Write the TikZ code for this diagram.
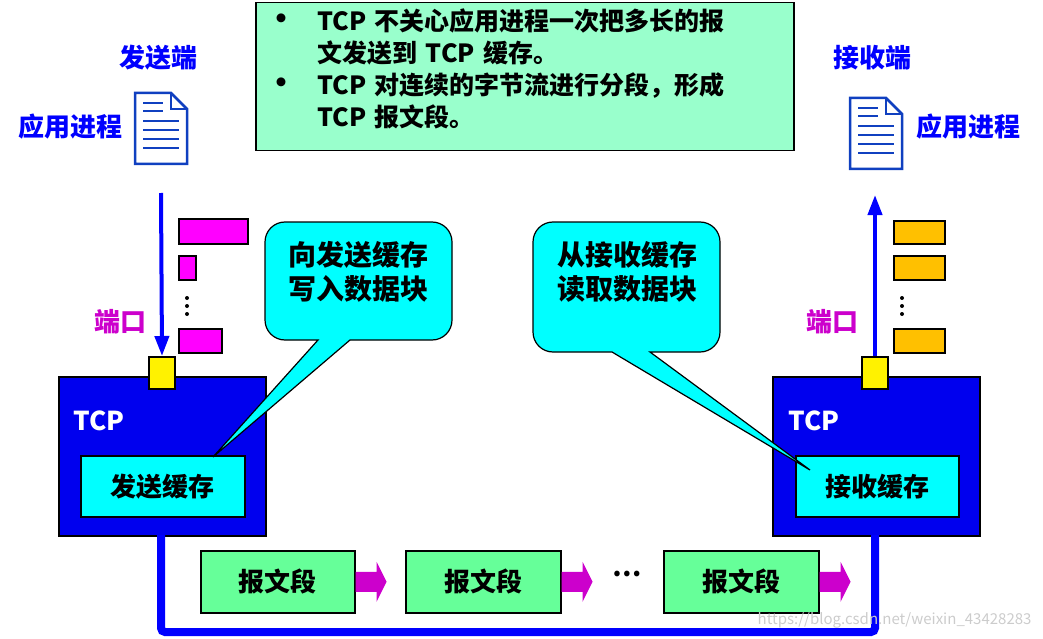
\documentclass[tikz,border=0pt]{standalone}
\usepackage{fontspec}
\setmainfont{Noto Sans CJK SC}
\usetikzlibrary{arrows.meta}
\definecolor{boxgreen}{HTML}{99FFCC}
\definecolor{seggreen}{HTML}{66FF99}
\definecolor{tcpblue}{HTML}{0000EE}
\definecolor{mag}{HTML}{FF00FF}
\definecolor{darkmag}{HTML}{CC00CC}
\definecolor{orng}{HTML}{FFC000}
\definecolor{docblue}{HTML}{1040C0}
\definecolor{cyn}{HTML}{00FFFF}
\tikzset{
 txt/.style={font=\bfseries\fontsize{26}{32}\selectfont},
 bluetxt/.style={txt,text=blue},
 tcpbox/.style={draw=black,line width=2pt,fill=tcpblue},
 buf/.style={draw=black,line width=1.5pt,fill=cyn,font=\bfseries\fontsize{26}{32}\selectfont},
 port/.style={draw=black,line width=2pt,fill=yellow},
 mbar/.style={draw=black,line width=1.5pt,fill=mag},
 obar/.style={draw=black,line width=1.5pt,fill=orng},
 seg/.style={draw=black,line width=1.5pt,fill=seggreen,font=\bfseries\fontsize{26}{32}\selectfont},
 callout/.style={draw=black,line width=1.2pt,fill=cyn},
 flow/.style={line width=4pt,draw=blue,-{Triangle[length=20pt,width=14pt]}}
}
\newcommand{\docicon}[2]{%
 \begin{scope}[shift={(#1,#2)}]
 \draw[docblue,line width=2.5pt,fill=white] (0,0)--(36,0)--(52,16)--(52,71)--(0,71)--cycle;
 \draw[docblue,line width=2pt] (36,0)--(36,16)--(52,16);
 \foreach \y/\a/\b in {10/8/28,18/8/28,28/8/44,37/8/44,46/8/44,55/8/44}{\draw[docblue,line width=2.5pt] (\a,\y)--(\b,\y);}
 \end{scope}}
\newcommand{\segarr}[1]{\fill[darkmag] ($(#1.east)+(0,-10)$) -- ++(21,0) -- ++(0,-10) -- ($(#1.east)+(31,0)$) -- ($(#1.east)+(21,20)$) -- ++(0,-10) -- ($(#1.east)+(0,10)$) -- cycle;}
\usetikzlibrary{calc}
\begin{document}
\begin{tikzpicture}[x=1pt,y=-1pt]
\useasboundingbox (0,0) rectangle (1043,639);
% top box
\node[draw=black,line width=1.5pt,fill=boxgreen,minimum width=538pt,minimum height=148pt,anchor=north west] (info) at (255,2) {};
\node[txt,anchor=north west,align=left,text width=520pt,font=\bfseries\fontsize{25}{32}\selectfont] (infotxt) at (262,5) {%
\makebox[52pt][l]{\fontsize{32}{32}\selectfont\textbullet}TCP 不关心应用进程一次把多长的报\\
\makebox[52pt][l]{}文发送到 TCP 缓存。\\
\makebox[52pt][l]{\fontsize{32}{32}\selectfont\textbullet}TCP 对连续的字节流进行分段，形成\\
\makebox[52pt][l]{}TCP 报文段。};
% labels
\node[bluetxt] (sendend) at (158,58) {发送端};
\node[bluetxt] (app1) at (70,127) {应用进程};
\node[bluetxt] (recvend) at (872,58) {接收端};
\node[bluetxt] (app2) at (968,127) {应用进程};
\docicon{135}{93}
\docicon{850}{98}
% TCP boxes
\node[tcpbox,minimum width=207pt,minimum height=159pt,anchor=north west] (tcpL) at (58,376) {};
\node[tcpbox,minimum width=207pt,minimum height=159pt,anchor=north west] (tcpR) at (772,376) {};
\node[txt,text=white] (tcpLt) at (99,421) {TCP};
\node[txt,text=white] (tcpRt) at (814,421) {TCP};
\node[buf,minimum width=164pt,minimum height=61pt,anchor=north west] (sbuf) at (80,455) {发送缓存};
\node[buf,minimum width=163pt,minimum height=61pt,anchor=north west] (rbuf) at (795,455) {接收缓存};
% ports
\node[port,minimum width=26pt,minimum height=32pt,inner sep=0pt] (portL) at (162,373) {};
\node[port,minimum width=26pt,minimum height=32pt,inner sep=0pt] (portR) at (875,373) {};
\node[txt,text=darkmag] (plL) at (120,322) {端口};
\node[txt,text=darkmag] (plR) at (832,322) {端口};
\coordinate (aL) at (161,193);
\coordinate (aR) at (875,195);
\draw[flow] (aL) -- (portL.north);
\draw[flow] (portR.north) -- (aR);
% bars
\node[mbar,minimum width=69pt,minimum height=25pt,anchor=north west,inner sep=0pt] (m1) at (178,218) {};
\node[mbar,minimum width=17pt,minimum height=24pt,anchor=north west,inner sep=0pt] (m2) at (178,255) {};
\node[mbar,minimum width=43pt,minimum height=24pt,anchor=north west,inner sep=0pt] (m3) at (178,328) {};
\foreach \y in {298,306,314}{\fill (187,\y) circle (2pt);}
\node[obar,minimum width=51pt,minimum height=23pt,anchor=north west,inner sep=0pt] (o1) at (893,220) {};
\node[obar,minimum width=51pt,minimum height=24pt,anchor=north west,inner sep=0pt] (o2) at (893,255) {};
\node[obar,minimum width=51pt,minimum height=24pt,anchor=north west,inner sep=0pt] (o3) at (893,328) {};
\foreach \y in {298,306,314}{\fill (902,\y) circle (2pt);}
% callouts
\coordinate (tipL) at (213,457);
\coordinate (tipR) at (810,470);
\draw[callout] (285,222) -- (432,222) to[out=0,in=90] (452,242) -- (452,320) to[out=-90,in=0] (432,340) -- (350,340) -- (tipL) -- (318,340) -- (285,340) to[out=180,in=-90] (265,320) -- (265,242) to[out=90,in=180] cycle;
\node[txt,align=center,font=\bfseries\fontsize{28}{34}\selectfont] (c1) at (358,272) {向发送缓存\\写入数据块};
\draw[callout] (553,222) -- (700,222) to[out=0,in=90] (720,242) -- (720,332) to[out=-90,in=0] (700,352) -- (650,352) -- (tipR) -- (612,352) -- (553,352) to[out=180,in=-90] (533,332) -- (533,242) to[out=90,in=180] cycle;
\node[txt,align=center,font=\bfseries\fontsize{28}{34}\selectfont] (c2) at (627,272) {从接收缓存\\读取数据块};
% bottom line
\coordinate (b1) at (161,632);
\coordinate (b2) at (875,632);
\draw[blue,line width=8pt,rounded corners=4pt] (161,535) -- (b1) -- (b2) -- (875,535);
% segments
\node[seg,minimum width=154pt,minimum height=62pt,anchor=north west] (s1) at (200,550) {报文段};
\node[seg,minimum width=155pt,minimum height=62pt,anchor=north west] (s2) at (405,550) {报文段};
\node[seg,minimum width=155pt,minimum height=62pt,anchor=north west] (s3) at (663,550) {报文段};
\segarr{s1}
\segarr{s2}
\segarr{s3}
\node[txt] (dots) at (627,574) {…};
\node[text=gray!40,font=\fontsize{15}{18}\selectfont,anchor=east] (wm) at (1035,620) {https://blog.csdn.net/weixin\_43428283};
\end{tikzpicture}
\end{document}
